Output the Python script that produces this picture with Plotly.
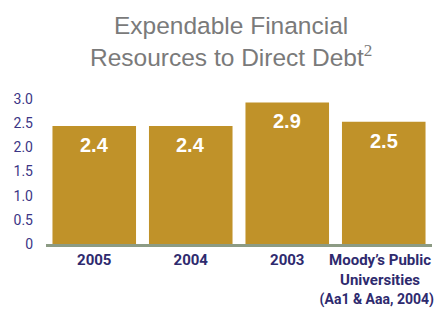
import plotly.graph_objects as go

categories = ["2005", "2004", "2003", "Moody's Public"]
tick_labels = ["2005", "2004", "2003",
               "Moody’s Public\u00a0\u00a0<br>Universities\u00a0\u00a0<br>"
               "<span style='font-size:14px'>(Aa1 & Aaa, 2004)\u00a0\u00a0\u00a0\u00a0</span>"]
values = [2.44, 2.44, 2.93, 2.53]
value_labels = ["2.4", "2.4", "2.9", "2.5"]
y_ticks = [0, 0.5, 1.0, 1.5, 2.0, 2.5, 3.0]
y_tick_labels = ["0", "0.5", "1.0", "1.5", "2.0", "2.5", "3.0"]

GOLD = "#C09229"
NAVY = "#2E2A6E"
COND = "Roboto, Liberation Sans Narrow, sans-serif"

fig = go.Figure()
fig.add_trace(go.Bar(x=categories, y=values, marker=dict(color=GOLD, line=dict(width=0)),
                     hoverinfo="skip"))

for i, (v, t) in enumerate(zip(values, value_labels)):
    fig.add_annotation(x=i, y=v, text=t, showarrow=False, yanchor="middle",
                       yshift=-19, font=dict(family="Liberation Sans, Arial, sans-serif",
                                              size=20, color="white", weight="bold"))

fig.add_annotation(
    xref="paper", yref="paper", x=0.48, y=1 + 89 / 145, xanchor="center", yanchor="top",
    showarrow=False, align="center",
    text="Expendable Financial<br>Resources to Direct Debt<sup><span style='font-family:Liberation Serif'>2</span></sup>",
    font=dict(family="Liberation Sans, Arial, sans-serif", size=24.5, color="#7A7A7A"),
)

# page body has an 8px default margin; figure is sized/positioned to compensate
fig.update_layout(
    width=435, height=304,
    margin=dict(l=38, r=11, t=91, b=68, autoexpand=False),
    plot_bgcolor="white", paper_bgcolor="white",
    bargap=0.134,
    showlegend=False,
    xaxis=dict(
        type="category", automargin=False,
        tickmode="array", tickvals=categories, ticktext=tick_labels,
        showline=True, linecolor="#8C9B84", linewidth=3,
        ticks="", showgrid=False, tickangle=0,
        tickfont=dict(family=COND, size=15, color=NAVY, weight="bold"),
    ),
    yaxis=dict(
        range=[0, 3.0], tickmode="array", tickvals=y_ticks, ticktext=y_tick_labels,
        showgrid=False, zeroline=False, showline=False, ticks="", automargin=False,
        ticklabelstandoff=12,
        tickfont=dict(family=COND, size=14, color="#3B3585"),
    ),
)

fig.write_html("out.html")
